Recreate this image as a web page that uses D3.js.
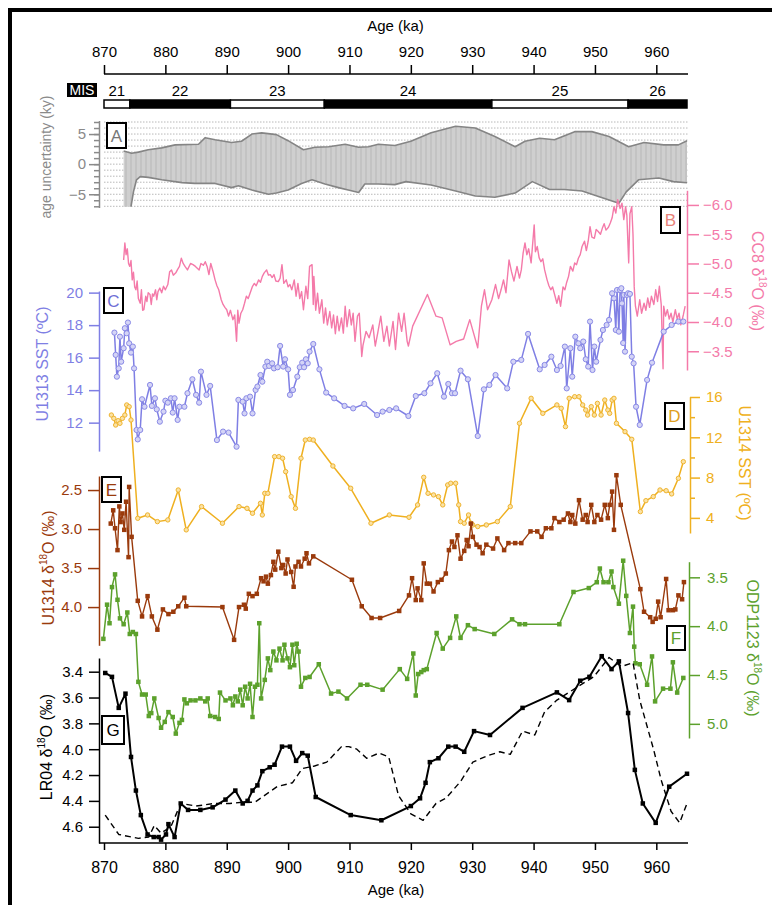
<!DOCTYPE html>
<html>
<head>
<meta charset="utf-8">
<script src="https://cdn.jsdelivr.net/npm/d3@7"></script>
<style>
  body { margin: 0; background: #fff; }
  svg { display: block; }
  text { font-family: "Liberation Sans", Arial, Helvetica, sans-serif; }
</style>
</head>
<body>
<svg id="chart" width="772" height="905"></svg>
<script>
// ---------- age axis and marine isotope stages ----------
const ageTicks = [870, 880, 890, 900, 910, 920, 930, 940, 950, 960];
const misBounds = [870, 874.2, 890.6, 905.9, 933.2, 955.4, 965];
const misStages = ["21", "22", "23", "24", "25", "26"];
const misGlacial = [false, true, false, true, false, true];

// ---------- A: age model uncertainty (ky) ----------
const uncUpAge = [873.2, 874.5, 875.6, 877.2, 879.4, 881.6, 885.4, 886.5, 888.1, 890.8, 892.4, 894.1, 895.7, 898.1, 900.0, 902.5, 904.4, 906.6, 909.3, 911.5, 913.1, 914.7, 917.4, 920.0, 923.3, 927.3, 930.5, 933.7, 937.0, 938.6, 941.0, 943.4, 946.7, 949.5, 952.3, 955.5, 958.0, 961.2, 963.6, 965.0];
const uncUp = [2.2, 1.8, 2.0, 2.4, 2.7, 3.2, 3.3, 4.4, 4.05, 3.6, 3.8, 5.0, 5.2, 4.9, 3.9, 2.4, 2.8, 2.9, 3.3, 2.8, 2.9, 3.3, 3.1, 3.8, 5.2, 6.3, 6.0, 4.6, 2.9, 3.8, 4.3, 4.05, 5.4, 5.4, 4.6, 2.9, 3.6, 3.2, 3.2, 3.9];
const uncLoAge = [873.2, 874.4, 874.8, 875.3, 875.9, 877.2, 879.4, 882.7, 884.8, 888.1, 890.8, 891.9, 894.1, 896.8, 898.1, 900.0, 902.2, 903.9, 906.0, 908.2, 909.8, 911.5, 912.5, 914.7, 917.4, 919.2, 923.3, 927.3, 930.5, 933.7, 937.0, 939.8, 942.6, 945.0, 947.9, 950.7, 953.9, 955.1, 957.1, 960.4, 962.8, 965.0];
const uncLo = [-7.07, -7.07, -4.6, -2.6, -2.07, -2.2, -2.6, -3.07, -3.2, -3.2, -3.9, -3.6, -4.3, -5.0, -4.8, -4.3, -3.2, -2.6, -3.3, -3.9, -4.3, -4.7, -3.3, -3.3, -3.4, -2.9, -3.45, -4.45, -5.3, -5.5, -4.8, -2.9, -4.2, -4.2, -4.45, -5.4, -6.5, -4.6, -2.6, -2.3, -2.9, -3.1];

// ---------- B: CC8 speleothem d18O (permil) ----------
const cc8Age = [873.2, 873.4, 873.6, 873.8, 874.0, 874.2, 874.4, 874.6, 874.8, 875.0, 875.2, 875.4, 875.6, 875.9, 876.1, 876.3, 876.5, 876.8, 877.0, 877.2, 877.5, 877.7, 877.9, 878.1, 878.4, 878.6, 878.8, 879.1, 879.4, 879.7, 880.0, 880.4, 880.7, 881.0, 881.3, 881.7, 882.0, 882.3, 882.6, 882.9, 883.2, 883.6, 884.1, 884.5, 884.9, 885.2, 885.5, 885.8, 886.2, 886.5, 886.8, 887.1, 887.4, 887.8, 888.1, 888.4, 888.7, 889.1, 889.4, 889.7, 890.0, 890.3, 890.6, 891.0, 891.3, 891.6, 891.8, 892.0, 892.3, 892.6, 892.9, 893.2, 893.5, 893.9, 894.2, 894.5, 894.8, 895.2, 895.5, 895.8, 896.1, 896.5, 896.8, 897.1, 897.4, 897.7, 898.0, 898.4, 898.7, 899.0, 899.3, 899.7, 900.0, 900.3, 900.6, 901.0, 901.3, 901.6, 901.9, 902.2, 902.5, 902.9, 903.2, 903.5, 903.9, 904.1, 904.2, 904.5, 904.8, 905.1, 905.5, 905.8, 906.1, 906.4, 906.8, 907.1, 907.4, 907.7, 908.0, 908.3, 908.7, 909.0, 909.3, 909.6, 910.0, 910.3, 910.6, 910.9, 911.3, 911.6, 912.0, 912.2, 912.7, 913.2, 913.8, 914.2, 914.6, 915.1, 915.6, 916.1, 916.5, 917.1, 917.5, 918.0, 918.5, 918.9, 919.4, 919.6, 920.3, 922.7, 924.1, 925.1, 926.4, 927.4, 928.6, 929.6, 930.9, 931.5, 932.0, 932.5, 933.2, 933.8, 934.3, 934.7, 935.1, 935.5, 936.0, 936.4, 936.8, 937.3, 937.7, 938.0, 938.3, 938.6, 938.9, 939.2, 939.6, 940.1, 940.3, 940.6, 940.9, 941.2, 941.5, 941.8, 942.2, 942.5, 942.8, 943.1, 943.5, 943.8, 944.1, 944.4, 944.8, 945.1, 945.4, 945.7, 946.0, 946.4, 946.7, 947.0, 947.3, 947.6, 947.9, 948.3, 948.6, 948.9, 949.2, 949.5, 949.9, 950.2, 950.5, 950.9, 951.2, 951.5, 951.8, 952.2, 952.5, 952.8, 953.1, 953.4, 953.7, 954.1, 954.4, 954.7, 955.0, 955.2, 955.5, 955.7, 956.0, 956.2, 956.4, 956.6, 956.9, 957.3, 957.6, 958.0, 958.3, 958.6, 958.9, 959.2, 959.6, 959.9, 960.2, 960.5, 960.8, 961.1, 961.2, 961.5, 961.8, 962.1, 962.4, 962.7, 963.1, 963.4, 963.7, 964.0, 964.4, 964.7];
const cc8D18O = [-5.06, -5.35, -5.15, -5.25, -5.00, -4.95, -5.05, -4.72, -4.85, -4.60, -4.55, -4.70, -4.40, -4.32, -4.55, -4.20, -4.21, -4.44, -4.35, -4.50, -4.47, -4.30, -4.48, -4.44, -4.55, -4.38, -4.52, -4.58, -4.50, -4.61, -4.55, -4.64, -4.86, -4.89, -4.80, -4.84, -4.90, -4.95, -5.09, -5.00, -4.95, -4.89, -5.00, -4.98, -4.95, -4.92, -4.89, -5.00, -4.97, -5.03, -4.95, -4.81, -5.00, -4.85, -4.72, -4.62, -4.55, -4.38, -4.30, -4.25, -4.21, -4.10, -4.20, -4.04, -4.12, -3.67, -4.20, -3.98, -4.15, -4.21, -4.32, -4.44, -4.40, -4.52, -4.61, -4.66, -4.62, -4.72, -4.68, -4.78, -4.84, -4.89, -4.80, -4.81, -4.76, -4.81, -4.70, -4.69, -4.75, -4.98, -4.66, -4.72, -4.60, -4.64, -4.55, -4.72, -4.44, -4.66, -4.40, -4.52, -4.21, -4.61, -4.40, -4.95, -4.98, -4.30, -4.78, -4.20, -4.49, -4.15, -4.38, -3.98, -4.24, -3.95, -4.18, -3.90, -4.12, -3.80, -4.10, -3.85, -4.07, -3.81, -4.27, -3.92, -4.21, -3.95, -4.15, -3.67, -4.10, -4.15, -3.41, -3.60, -3.84, -3.73, -3.95, -3.59, -3.81, -4.10, -3.67, -3.93, -3.59, -4.01, -3.53, -4.15, -3.84, -4.15, -3.67, -3.59, -3.93, -4.47, -4.10, -4.07, -3.61, -3.67, -3.71, -4.04, -3.56, -4.27, -4.55, -4.21, -4.38, -4.64, -4.40, -4.55, -4.72, -4.50, -5.06, -4.86, -4.70, -4.95, -4.75, -4.89, -5.18, -5.35, -5.15, -5.25, -5.01, -5.66, -5.20, -5.29, -5.10, -5.03, -5.08, -4.89, -4.72, -4.62, -4.55, -4.60, -4.44, -4.32, -4.45, -4.27, -4.60, -4.55, -4.68, -4.78, -4.95, -4.87, -5.01, -4.98, -5.09, -5.15, -5.29, -5.38, -5.22, -5.38, -5.63, -5.45, -5.43, -5.58, -5.55, -5.50, -5.60, -5.68, -5.57, -5.62, -5.69, -5.78, -5.97, -5.86, -6.09, -5.94, -6.03, -5.75, -5.97, -5.82, -5.01, -5.85, -5.97, -5.50, -4.60, -4.27, -4.10, -4.38, -4.15, -4.32, -4.20, -4.41, -4.25, -4.44, -4.30, -4.55, -4.35, -4.61, -4.30, -3.20, -4.27, -4.10, -4.21, -4.05, -4.15, -4.00, -4.21, -4.05, -4.15, -3.95, -4.12, -4.27];

// ---------- C: U1313 alkenone SST (degC) ----------
const u1313Age = [871.7, 871.9, 872.1, 872.4, 872.6, 872.8, 873.2, 873.4, 873.7, 873.9, 874.1, 874.4, 874.7, 874.9, 875.3, 875.5, 875.9, 876.2, 876.6, 877.5, 877.8, 878.3, 878.6, 879.1, 879.7, 880.0, 880.4, 880.9, 881.2, 881.5, 882.0, 882.3, 883.1, 883.6, 884.4, 885.0, 885.5, 885.8, 886.7, 887.3, 888.4, 889.4, 890.3, 891.6, 891.9, 892.6, 892.9, 893.2, 893.8, 894.2, 894.7, 895.0, 895.5, 895.8, 896.3, 896.6, 896.9, 897.4, 897.7, 898.3, 898.7, 899.2, 899.5, 900.0, 900.3, 900.8, 901.5, 901.9, 902.3, 902.6, 902.9, 903.2, 903.5, 904.1, 905.1, 906.2, 907.5, 909.2, 910.6, 912.4, 914.5, 915.4, 916.5, 917.6, 919.6, 920.8, 922.2, 923.2, 924.3, 925.4, 926.1, 926.7, 927.2, 928.1, 929.3, 930.9, 931.9, 932.8, 933.8, 935.7, 936.7, 938.0, 939.1, 941.0, 941.8, 942.9, 943.8, 944.4, 945.1, 945.4, 946.0, 946.3, 946.8, 947.3, 947.6, 948.1, 948.5, 948.9, 949.2, 949.6, 949.9, 950.2, 950.9, 951.3, 951.9, 952.3, 952.8, 953.1, 953.4, 953.6, 953.9, 954.1, 954.3, 954.4, 954.6, 954.7, 954.9, 955.2, 955.4, 955.7, 956.0, 956.3, 956.7, 957.3, 958.5, 959.3, 961.2, 962.5, 963.6, 964.4];
const u1313Sst = [17.54, 16.17, 14.83, 15.34, 17.29, 15.75, 16.58, 17.81, 17.50, 18.16, 16.88, 16.31, 16.68, 15.34, 11.55, 10.97, 11.55, 13.44, 12.98, 14.32, 13.03, 13.50, 12.82, 12.06, 12.68, 13.35, 13.23, 13.50, 12.62, 13.50, 12.17, 12.98, 12.98, 13.81, 14.67, 13.71, 13.23, 15.14, 13.71, 14.26, 10.93, 11.45, 11.39, 10.52, 13.40, 13.29, 12.57, 13.50, 13.60, 12.57, 14.01, 14.22, 14.93, 14.52, 15.45, 15.75, 15.49, 15.65, 15.34, 15.41, 16.72, 15.45, 15.90, 15.28, 13.71, 14.01, 14.83, 15.41, 15.69, 15.41, 15.90, 15.65, 16.37, 16.84, 15.28, 13.85, 13.50, 13.03, 12.88, 13.15, 12.47, 12.68, 12.78, 12.88, 12.41, 13.64, 13.81, 14.42, 15.04, 13.60, 14.38, 13.81, 13.81, 15.20, 14.67, 11.18, 14.05, 14.32, 14.93, 14.11, 15.75, 15.86, 17.46, 15.28, 15.55, 16.06, 15.24, 15.49, 16.68, 14.11, 16.58, 14.83, 17.29, 16.88, 16.58, 16.99, 15.90, 15.45, 18.22, 15.24, 16.68, 15.75, 17.09, 17.70, 18.01, 18.32, 19.96, 19.65, 17.70, 20.16, 17.60, 20.16, 20.27, 19.34, 16.90, 19.86, 16.37, 19.86, 19.96, 19.92, 16.06, 15.65, 12.98, 11.86, 14.63, 15.69, 17.60, 18.01, 18.22, 18.22];

// ---------- D: U1314 SST (degC) ----------
const u1314SstAge = [871.2, 871.6, 871.9, 872.3, 872.6, 873.0, 873.4, 873.7, 874.1, 874.4, 875.5, 877.1, 878.7, 880.4, 882.1, 883.4, 885.9, 889.3, 892.0, 893.3, 894.2, 895.5, 895.8, 896.2, 896.7, 897.8, 898.5, 899.1, 899.6, 900.5, 901.2, 902.1, 902.8, 903.5, 904.1, 907.3, 910.2, 913.5, 916.5, 919.7, 921.1, 922.1, 922.8, 923.7, 924.5, 925.2, 926.0, 926.5, 927.3, 927.8, 928.1, 928.7, 929.4, 929.8, 930.1, 930.9, 932.3, 934.1, 936.2, 937.7, 939.6, 941.5, 943.8, 944.5, 945.2, 945.8, 946.7, 947.4, 948.0, 948.5, 948.8, 949.4, 949.9, 950.4, 951.0, 951.6, 952.1, 952.4, 952.8, 953.1, 953.5, 954.9, 956.0, 957.4, 958.3, 959.5, 960.6, 961.6, 962.5, 963.6, 964.4];
const u1314Sst = [14.21, 13.88, 13.22, 13.65, 13.39, 13.88, 14.21, 15.21, 15.04, 13.72, 3.96, 4.29, 3.63, 3.80, 6.77, 2.81, 5.12, 3.47, 5.12, 4.95, 4.46, 5.45, 4.29, 6.44, 6.44, 10.08, 10.08, 9.92, 8.59, 6.11, 4.95, 9.92, 11.73, 11.80, 11.73, 9.15, 6.94, 3.47, 4.29, 4.06, 5.29, 8.03, 6.44, 6.28, 6.11, 5.29, 7.27, 7.44, 7.44, 5.29, 3.63, 3.47, 4.29, 3.47, 3.30, 3.14, 3.30, 3.63, 5.12, 13.39, 15.87, 14.38, 15.21, 14.88, 13.06, 15.87, 16.03, 16.03, 15.21, 14.71, 14.21, 15.04, 14.21, 15.37, 14.21, 15.70, 14.71, 14.38, 15.70, 15.87, 13.39, 12.56, 11.80, 4.62, 5.71, 6.11, 6.77, 6.70, 6.38, 7.93, 9.58];

// ---------- E: U1314 benthic d18O (permil) ----------
const u1314IsoAge = [871.1, 871.5, 871.8, 872.2, 872.5, 872.7, 873.0, 873.3, 873.6, 874.0, 874.1, 874.5, 875.5, 876.2, 877.1, 877.8, 878.7, 879.6, 880.5, 881.3, 882.1, 883.1, 883.4, 889.3, 891.2, 892.0, 892.8, 893.1, 893.6, 894.2, 894.9, 895.6, 896.0, 896.4, 896.7, 897.2, 897.6, 897.9, 898.4, 898.9, 899.2, 899.6, 899.9, 900.5, 900.9, 901.2, 901.7, 902.1, 902.7, 903.0, 903.4, 904.1, 910.4, 912.0, 913.6, 915.0, 918.1, 919.7, 920.2, 920.8, 921.1, 921.7, 922.1, 922.6, 923.1, 923.7, 924.4, 925.0, 925.7, 926.2, 926.7, 927.1, 927.6, 928.1, 928.7, 929.1, 929.4, 929.8, 930.1, 930.7, 931.2, 931.7, 932.3, 933.4, 934.1, 935.2, 935.9, 937.0, 938.0, 939.5, 940.6, 941.3, 942.0, 942.9, 943.4, 944.2, 944.9, 945.6, 946.0, 946.3, 946.8, 947.4, 948.0, 948.5, 948.8, 949.4, 949.9, 950.4, 951.0, 951.6, 952.1, 952.4, 952.8, 953.1, 953.5, 954.2, 957.4, 958.0, 959.0, 959.4, 959.9, 960.3, 960.7, 961.6, 962.0, 962.7, 963.1, 963.6, 964.2, 964.5];
const u1314Iso = [2.93, 2.76, 2.99, 3.27, 2.71, 2.91, 2.80, 3.01, 2.65, 3.36, 2.46, 3.10, 3.92, 4.12, 3.86, 4.12, 4.29, 4.03, 4.09, 4.06, 3.99, 3.88, 3.99, 4.00, 4.42, 4.00, 3.97, 4.02, 3.83, 3.86, 3.83, 3.63, 3.67, 3.61, 3.70, 3.59, 3.42, 3.52, 3.29, 3.50, 3.46, 3.57, 3.39, 3.55, 3.74, 3.48, 3.42, 3.48, 3.38, 3.31, 3.44, 3.35, 3.65, 3.99, 4.14, 4.14, 4.05, 3.85, 3.63, 3.91, 3.76, 3.91, 3.44, 3.70, 3.70, 3.80, 3.68, 3.65, 3.57, 3.27, 3.16, 3.23, 3.08, 3.38, 3.28, 3.14, 3.22, 2.93, 3.10, 3.20, 3.23, 3.31, 3.20, 3.25, 3.12, 3.27, 3.18, 3.18, 3.18, 3.03, 3.03, 3.10, 2.99, 2.99, 2.86, 2.91, 2.88, 2.80, 2.91, 2.82, 2.93, 2.63, 2.88, 2.82, 2.91, 2.69, 2.91, 2.82, 2.88, 2.69, 2.86, 2.69, 2.52, 3.01, 2.31, 2.69, 3.77, 4.06, 4.13, 4.19, 4.15, 3.93, 4.13, 3.64, 4.04, 4.04, 4.03, 3.85, 3.90, 3.68];

// ---------- F: ODP1123 benthic d18O (permil) ----------
const odp1123Age = [869.9, 870.5, 870.9, 871.3, 871.8, 872.2, 872.6, 873.2, 873.8, 874.2, 874.7, 875.2, 875.6, 876.2, 876.8, 877.3, 877.7, 878.2, 878.9, 879.3, 879.9, 880.5, 881.2, 881.7, 882.3, 882.7, 883.1, 883.5, 884.1, 884.9, 885.7, 886.5, 886.9, 887.3, 888.1, 888.7, 888.9, 889.8, 890.6, 891.0, 891.4, 891.8, 892.2, 892.6, 893.0, 893.4, 893.8, 894.2, 894.6, 895.0, 895.3, 895.6, 896.2, 896.7, 897.1, 897.6, 898.1, 898.6, 899.1, 899.4, 899.9, 900.3, 900.7, 901.0, 901.4, 901.7, 902.1, 902.8, 903.5, 905.0, 907.0, 908.2, 909.6, 911.8, 912.9, 915.4, 918.2, 919.4, 920.4, 920.8, 921.2, 921.7, 922.1, 922.6, 924.2, 925.2, 926.4, 927.4, 928.1, 929.3, 930.4, 933.6, 936.5, 937.7, 938.6, 944.2, 946.5, 949.0, 950.3, 950.8, 951.4, 952.2, 952.7, 953.0, 953.9, 954.6, 955.1, 955.7, 956.2, 956.4, 956.6, 957.3, 958.5, 959.3, 959.8, 961.1, 962.3, 962.7, 963.4, 964.4];
const odp1123Iso = [4.13, 3.78, 3.97, 3.60, 3.47, 3.73, 3.92, 3.98, 3.86, 4.08, 4.06, 4.08, 4.57, 4.70, 4.70, 4.92, 4.89, 4.74, 4.94, 5.04, 4.98, 4.88, 4.93, 5.10, 4.99, 4.96, 4.75, 4.79, 4.76, 4.76, 4.74, 4.77, 4.74, 4.92, 4.93, 4.95, 4.68, 4.76, 4.74, 4.81, 4.72, 4.77, 4.65, 4.81, 4.62, 4.74, 4.59, 4.93, 4.62, 4.60, 3.97, 4.74, 4.55, 4.33, 4.45, 4.26, 4.35, 4.23, 4.35, 4.19, 4.33, 4.42, 4.19, 4.40, 4.18, 4.26, 4.62, 4.53, 4.52, 4.39, 4.69, 4.67, 4.74, 4.60, 4.60, 4.65, 4.44, 4.54, 4.28, 4.71, 4.49, 4.47, 4.45, 4.44, 4.07, 4.23, 4.12, 3.90, 4.12, 3.99, 4.03, 4.08, 3.93, 3.98, 3.98, 3.98, 3.65, 3.61, 3.55, 3.41, 3.55, 3.55, 3.44, 3.60, 3.77, 3.33, 3.69, 4.07, 3.80, 4.21, 4.38, 4.39, 4.60, 4.31, 4.77, 4.64, 4.64, 4.37, 4.68, 4.53];

// ---------- G: LR04 benthic stack (permil), tuned and reference ----------
const lr04Age = [870.2, 871.3, 872.4, 873.5, 874.4, 875.2, 876.0, 877.1, 878.1, 878.9, 879.3, 880.1, 880.5, 881.5, 882.5, 883.7, 885.7, 887.7, 889.8, 891.4, 892.6, 893.4, 894.2, 895.0, 895.8, 897.0, 897.8, 899.0, 900.3, 901.3, 902.3, 903.2, 904.5, 910.2, 915.2, 920.0, 921.5, 922.4, 923.1, 924.5, 926.1, 927.3, 928.7, 930.3, 932.9, 938.2, 943.8, 945.8, 947.6, 949.1, 951.1, 952.7, 953.9, 955.4, 956.5, 957.8, 959.9, 962.1, 965.0];
const lr04Iso = [3.41, 3.44, 3.68, 3.57, 4.06, 4.32, 4.51, 4.66, 4.68, 4.68, 4.70, 4.66, 4.58, 4.68, 4.42, 4.47, 4.47, 4.45, 4.39, 4.32, 4.42, 4.40, 4.32, 4.28, 4.17, 4.14, 4.12, 3.98, 3.98, 4.09, 4.03, 4.05, 4.37, 4.51, 4.55, 4.44, 4.38, 4.26, 4.10, 4.07, 3.98, 3.98, 4.02, 3.86, 3.89, 3.68, 3.56, 3.62, 3.47, 3.44, 3.28, 3.38, 3.32, 3.72, 4.16, 4.42, 4.57, 4.29, 4.19];
const lr04RefAge = [870.2, 872.4, 875.6, 877.3, 878.2, 879.3, 880.9, 882.5, 885.0, 888.0, 890.5, 892.6, 894.6, 898.2, 900.7, 902.3, 904.3, 906.3, 908.7, 909.9, 911.2, 912.8, 914.8, 916.4, 918.0, 920.0, 922.0, 924.1, 925.7, 928.1, 930.1, 932.5, 934.5, 936.2, 938.2, 940.2, 941.8, 943.8, 947.4, 949.8, 952.3, 954.3, 956.2, 957.3, 959.6, 960.8, 962.4, 963.8, 965.0];
const lr04RefIso = [4.51, 4.66, 4.69, 4.68, 4.59, 4.65, 4.60, 4.42, 4.44, 4.42, 4.42, 4.41, 4.41, 4.29, 4.26, 4.15, 4.13, 4.10, 3.98, 3.98, 4.00, 4.07, 4.03, 4.06, 4.36, 4.50, 4.55, 4.42, 4.38, 4.25, 4.10, 4.05, 4.02, 4.04, 3.86, 3.89, 3.71, 3.62, 3.51, 3.44, 3.29, 3.36, 3.33, 3.62, 4.01, 4.24, 4.48, 4.57, 4.42];

// ---------- colours ----------
const C_GRAY = "#8a8a8a", C_PINK = "#f47aa9", C_BLUE = "#7f7fe4", C_ORANGE = "#efb020",
      C_BROWN = "#9a3a0c", C_GREEN = "#5ca12c", C_BLACK = "#000";

const svg = d3.select("#chart");
const defs = svg.append("defs");

// shared age scale
const x = d3.scaleLinear().domain([870, 965]).range([104, 687]);

// panel scales (value -> pixel)
const yA = d3.scaleLinear().domain([-7.2, 7.25]).range([207.5, 120.5]);
const yB = d3.scaleLinear().domain([-6.25, -3.18]).range([190.3, 370]);
const yC = d3.scaleLinear().domain([20.1, 10.25]).range([291, 451.1]);
const yD = d3.scaleLinear().domain([16.03, 2.5]).range([396.7, 533]);
const yE = d3.scaleLinear().domain([2.32, 4.49]).range([476, 645.3]);
const yF = d3.scaleLinear().domain([3.34, 5.145]).range([561.7, 738]);
const yG = d3.scaleLinear().domain([3.294, 4.726]).range([658, 843]);

const zip = (a, v) => a.map((d, i) => ({ a: d, v: v[i] }));

function styleAxis(g, color, width) {
  g.selectAll(".domain").attr("stroke", color).attr("stroke-width", width || 1.5);
  g.selectAll(".tick line").attr("stroke", color).attr("stroke-width", width || 1.5);
  g.selectAll(".tick text").attr("fill", color).attr("font-size", 15)
    .attr("font-family", '"Liberation Sans", Arial, sans-serif');
}

function vAxis(side, scale, xPos, values, fmt, color, tick, pad, minor) {
  const gen = (side === "left" ? d3.axisLeft(scale) : d3.axisRight(scale))
    .tickValues(values).tickFormat(fmt).tickSize(tick).tickSizeOuter(0).tickPadding(pad);
  const g = svg.append("g").attr("transform", `translate(${xPos},0)`).call(gen);
  styleAxis(g, color);
  if (minor) {
    const m = (side === "left" ? d3.axisLeft(scale) : d3.axisRight(scale))
      .tickValues(minor).tickFormat("").tickSize(tick / 2).tickSizeOuter(0);
    const gm = svg.append("g").attr("transform", `translate(${xPos},0)`).call(m);
    styleAxis(gm, color);
    gm.select(".domain").remove();
  }
  return g;
}

function axisTitle(xb, yc, rot, color, size, pre, sup, post) {
  const t = svg.append("text")
    .attr("transform", `translate(${xb},${yc}) rotate(${rot})`)
    .attr("text-anchor", "middle").attr("fill", color).attr("font-size", size);
  t.append("tspan").text(pre);
  if (sup) {
    t.append("tspan").attr("font-size", 10).attr("dy", -7).text(sup);
    t.append("tspan").attr("dy", 7).text(post);
  }
  return t;
}

function panelBox(x0, y0, w, h, letter, color) {
  svg.append("rect").attr("x", x0).attr("y", y0).attr("width", w).attr("height", h)
    .attr("fill", "#fff").attr("stroke", "#000").attr("stroke-width", 2);
  svg.append("text").attr("x", x0 + w / 2).attr("y", y0 + h / 2 + 6)
    .attr("text-anchor", "middle").attr("font-size", 17).attr("fill", color).text(letter);
}

function seriesLine(data, y, color, width, dash) {
  svg.append("path").datum(data)
    .attr("d", d3.line().x(d => x(d.a)).y(d => y(d.v)))
    .attr("fill", "none").attr("stroke", color).attr("stroke-width", width)
    .attr("stroke-linejoin", "round")
    .attr("stroke-dasharray", dash || null);
}

function circles(data, y, stroke, fill, r) {
  svg.append("g").selectAll("circle").data(data).join("circle")
    .attr("cx", d => x(d.a)).attr("cy", d => y(d.v)).attr("r", r)
    .attr("fill", fill).attr("stroke", stroke).attr("stroke-width", 1);
}

function squares(data, y, color, s) {
  svg.append("g").selectAll("rect").data(data).join("rect")
    .attr("x", d => x(d.a) - s / 2).attr("y", d => y(d.v) - s / 2)
    .attr("width", s).attr("height", s).attr("fill", color);
}

// ---------- outer frame ----------
svg.append("rect").attr("x", 10).attr("y", 10).attr("width", 800).attr("height", 950)
  .attr("fill", "none").attr("stroke", "#000").attr("stroke-width", 4);

// ---------- top age axis ----------
svg.append("text").attr("x", 395.5).attr("y", 31).attr("text-anchor", "middle")
  .attr("font-size", 15).text("Age (ka)");
const gTop = svg.append("g").attr("transform", "translate(0,74)")
  .call(d3.axisTop(x).tickValues(ageTicks).tickFormat(d3.format("d"))
    .tickSize(9).tickSizeOuter(0).tickPadding(8));
styleAxis(gTop, "#000");
gTop.select(".domain").attr("d", `M${x(870)},0H${x(965) + 1}`);

// ---------- MIS bar ----------
svg.append("rect").attr("x", 67).attr("y", 83).attr("width", 30).attr("height", 14).attr("fill", "#000");
svg.append("text").attr("x", 82).attr("y", 95).attr("text-anchor", "middle")
  .attr("fill", "#fff").attr("font-size", 14).text("MIS");
misStages.forEach((s, i) => {
  const a0 = misBounds[i], a1 = misBounds[i + 1];
  svg.append("text").attr("x", x((a0 + a1) / 2)).attr("y", 96).attr("text-anchor", "middle")
    .attr("font-size", 15).text(s);
  svg.append("rect").attr("x", x(a0)).attr("y", 100).attr("width", x(a1) - x(a0)).attr("height", 8)
    .attr("fill", misGlacial[i] ? "#000" : "#fff").attr("stroke", "#000").attr("stroke-width", 1.5);
});

// ---------- A: age uncertainty band ----------
const pat = defs.append("pattern").attr("id", "band").attr("patternUnits", "userSpaceOnUse")
  .attr("width", 5).attr("height", 10);
pat.append("rect").attr("width", 5).attr("height", 10).attr("fill", "#cfcfcf");
pat.append("rect").attr("width", 2).attr("height", 10).attr("fill", "#c3c3c3");

d3.range(-7, 8).forEach(v => {
  svg.append("line").attr("x1", x(870)).attr("x2", x(965) + 1).attr("y1", yA(v)).attr("y2", yA(v))
    .attr("stroke", "#b8b8b8").attr("stroke-width", 1).attr("stroke-dasharray", "1.5,1.5");
});
const upPts = zip(uncUpAge, uncUp), loPts = zip(uncLoAge, uncLo);
const bandPts = upPts.concat(loPts.slice().reverse());
svg.append("path").datum(bandPts)
  .attr("d", d3.line().x(d => x(d.a)).y(d => yA(d.v)) (bandPts) + "Z")
  .attr("fill", "url(#band)");
seriesLine(upPts, yA, "#858585", 1.6);
seriesLine(loPts.slice(1), yA, "#858585", 1.6);

vAxis("left", yA, 99, [-5, 0, 5], d3.format("d"), C_GRAY, 10, 3, d3.range(-7, 8));
axisTitle(51, 157, -90, C_GRAY, 14, "age uncertainty (ky)");
panelBox(107, 123, 19, 25, "A", "#777");

// ---------- B: CC8 ----------
seriesLine(zip(cc8Age, cc8D18O), yB, C_PINK, 1.4);
vAxis("right", yB, 687, [-6, -5.5, -5, -4.5, -4, -3.5], d3.format(".1f"), C_PINK, 12, 4);
axisTitle(752, 281, 90, C_PINK, 16, "CC8  δ", "18", "O (‰)");
panelBox(661, 207, 19, 26, "B", "#e8837a");

// ---------- C: U1313 SST ----------
const cPts = zip(u1313Age, u1313Sst);
seriesLine(cPts, yC, C_BLUE, 1.5);
circles(cPts, yC, "#8a8ae6", "#d4d4f6", 2.6);
vAxis("left", yC, 99, [12, 14, 16, 18, 20], d3.format("d"), C_BLUE, 10, 6);
axisTitle(48, 364, -90, C_BLUE, 16, "U1313 SST (ºC)");
panelBox(104, 288, 19, 25, "C", "#6f6fd6");

// ---------- D: U1314 SST ----------
const dPts = zip(u1314SstAge, u1314Sst);
seriesLine(dPts, yD, C_ORANGE, 1.5);
circles(dPts, yD, "#efb430", "#fbe2a4", 2.2);
vAxis("right", yD, 690, [4, 8, 12, 16], d3.format("d"), C_ORANGE, 10, 6, [6, 10, 14]);
axisTitle(739, 463, 90, C_ORANGE, 16, "U1314 SST (ºC)");
panelBox(665, 403, 19, 26, "D", "#e0a020");

// ---------- E: U1314 d18O ----------
const ePts = zip(u1314IsoAge, u1314Iso);
seriesLine(ePts, yE, C_BROWN, 1.4);
squares(ePts, yE, C_BROWN, 4.5);
vAxis("left", yE, 99, [2.5, 3.0, 3.5, 4.0], d3.format(".1f"), C_BROWN, 11, 6);
axisTitle(54, 568, -90, C_BROWN, 16, "U1314 δ", "18", "O (‰)");
panelBox(102, 477, 19, 25, "E", C_BROWN);

// ---------- F: ODP1123 d18O ----------
const fPts = zip(odp1123Age, odp1123Iso);
seriesLine(fPts, yF, C_GREEN, 1.5);
squares(fPts, yF, C_GREEN, 4.5);
vAxis("right", yF, 689, [3.5, 4.0, 4.5, 5.0], d3.format(".1f"), C_GREEN, 11, 7);
axisTitle(747, 648, 90, C_GREEN, 16, "ODP1123  δ", "18", "O (‰)");
panelBox(667, 626, 18, 24, "F", C_GREEN);

// ---------- G: LR04 ----------
seriesLine(zip(lr04RefAge, lr04RefIso), yG, C_BLACK, 1.4, "6,4");
const gPts = zip(lr04Age, lr04Iso);
seriesLine(gPts, yG, C_BLACK, 2);
squares(gPts, yG, C_BLACK, 4.5);
vAxis("left", yG, 99, [3.4, 3.6, 3.8, 4.0, 4.2, 4.4, 4.6], d3.format(".1f"), C_BLACK, 10, 6);
axisTitle(52, 747, -90, C_BLACK, 16, "LR04  δ", "18", "O (‰)");
panelBox(102, 716, 22, 28, "G", C_BLACK);

// ---------- bottom age axis ----------
const gBot = svg.append("g").attr("transform", "translate(0,843)")
  .call(d3.axisBottom(x).tickValues(ageTicks).tickFormat(d3.format("d"))
    .tickSize(7).tickSizeOuter(0).tickPadding(12));
styleAxis(gBot, "#000");
gBot.selectAll(".tick text").attr("font-size", 16);
gBot.select(".domain").attr("d", `M99,0H${x(965) + 1}`);
svg.append("text").attr("x", 396).attr("y", 895).attr("text-anchor", "middle")
  .attr("font-size", 15).text("Age (ka)");
</script>
</body>
</html>
